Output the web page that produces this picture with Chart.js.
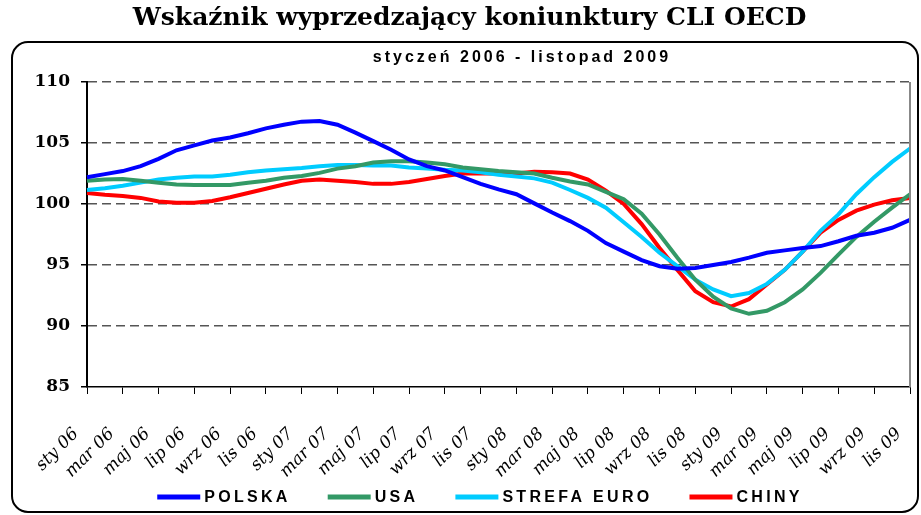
<!DOCTYPE html>
<html>
<head>
<meta charset="utf-8">
<script src="https://cdn.jsdelivr.net/npm/chart.js@4.4.1/dist/chart.umd.min.js"></script>
<style>
  html, body { margin: 0; padding: 0; background: #fff; }
</style>
</head>
<body>
<canvas id="chart" width="921" height="515"></canvas>
<script>
const TITLE = 'Wskaźnik wyprzedzający koniunktury CLI OECD';
const SUBTITLE = 'styczeń 2006 - listopad 2009';

const months = [
  'sty 06', 'lut 06', 'mar 06', 'kwi 06', 'maj 06', 'cze 06', 'lip 06', 'sie 06', 'wrz 06', 'paź 06', 'lis 06', 'gru 06',
  'sty 07', 'lut 07', 'mar 07', 'kwi 07', 'maj 07', 'cze 07', 'lip 07', 'sie 07', 'wrz 07', 'paź 07', 'lis 07', 'gru 07',
  'sty 08', 'lut 08', 'mar 08', 'kwi 08', 'maj 08', 'cze 08', 'lip 08', 'sie 08', 'wrz 08', 'paź 08', 'lis 08', 'gru 08',
  'sty 09', 'lut 09', 'mar 09', 'kwi 09', 'maj 09', 'cze 09', 'lip 09', 'sie 09', 'wrz 09', 'paź 09', 'lis 09'
];

const polska = [
  102.2, 102.45, 102.7, 103.1, 103.7, 104.4, 104.8, 105.2, 105.45, 105.8, 106.2, 106.5,
  106.75, 106.8, 106.5, 105.85, 105.15, 104.45, 103.65, 103.1, 102.75, 102.2, 101.65, 101.2,
  100.8, 100.05, 99.3, 98.6, 97.8, 96.8, 96.1, 95.4, 94.9, 94.7, 94.75, 95.0,
  95.25, 95.6, 96.0, 96.2, 96.4, 96.55, 96.95, 97.4, 97.65, 98.05, 98.7
];
const usa = [
  101.9, 102.0, 102.05, 101.9, 101.75, 101.6, 101.55, 101.55, 101.55, 101.75, 101.9, 102.15,
  102.3, 102.55, 102.9, 103.1, 103.4, 103.5, 103.5, 103.4, 103.25, 103.0, 102.85, 102.7,
  102.6, 102.5, 102.15, 101.85, 101.6, 101.0, 100.4, 99.2, 97.5, 95.6, 93.8, 92.4,
  91.45, 91.0, 91.25, 91.95, 93.0, 94.35, 95.85, 97.3, 98.55, 99.7, 100.8
];
const strefaEuro = [
  101.15, 101.3, 101.5, 101.75, 102.0, 102.15, 102.25, 102.25, 102.4, 102.6, 102.75, 102.85,
  102.95, 103.1, 103.2, 103.2, 103.15, 103.15, 103.0, 102.9, 102.8, 102.75, 102.6, 102.4,
  102.25, 102.1, 101.75, 101.15, 100.5, 99.7, 98.5, 97.3, 96.0, 94.9, 93.8, 93.0,
  92.45, 92.7, 93.45, 94.6, 96.1, 97.8, 99.15, 100.8, 102.2, 103.45, 104.55
];
const chiny = [
  100.9, 100.75, 100.65, 100.5, 100.2, 100.1, 100.1, 100.25, 100.55, 100.9, 101.25, 101.6,
  101.9, 102.0, 101.9, 101.8, 101.65, 101.65, 101.8, 102.05, 102.3, 102.5, 102.5, 102.5,
  102.5, 102.65, 102.6, 102.5, 102.0, 101.1, 100.0, 98.35, 96.4, 94.6, 92.85, 91.95,
  91.6, 92.2, 93.4, 94.6, 96.1, 97.65, 98.7, 99.45, 99.95, 100.3, 100.5
];

const seriesNames = ['POLSKA', 'USA', 'STREFA EURO', 'CHINY'];
const seriesColors = ['#0000ff', '#339966', '#00ccff', '#ff0000'];
const seriesValues = [polska, usa, strefaEuro, chiny];

const yTicks = [85, 90, 95, 100, 105, 110];

// rounded frame, subtitle and legend around the plot
const framePlugin = {
  id: 'frame',
  beforeDraw(chart) {
    const ctx = chart.ctx;
    ctx.save();
    ctx.strokeStyle = '#000';
    ctx.lineWidth = 2;
    ctx.beginPath();
    ctx.roundRect(12, 42, 906, 470, 16);
    ctx.stroke();
    ctx.restore();
  },
  afterDraw(chart) {
    const { ctx, chartArea } = chart;
    ctx.save();
    ctx.strokeStyle = '#888';
    ctx.lineWidth = 2;
    ctx.beginPath();
    ctx.moveTo(chartArea.right, chartArea.top);
    ctx.lineTo(chartArea.right, chartArea.bottom);
    ctx.stroke();

    ctx.fillStyle = '#000';
    ctx.textBaseline = 'middle';
    ctx.textAlign = 'center';
    ctx.font = 'bold 16px "Liberation Sans", Arial, sans-serif';
    ctx.letterSpacing = '3px';
    ctx.fillText(SUBTITLE, 522, 58);

    // legend
    ctx.font = 'bold 16px "Liberation Sans", Arial, sans-serif';
    ctx.letterSpacing = '3.3px';
    ctx.textAlign = 'left';
    const lineLen = 43, gap = 4, between = 37;
    const items = chart.data.datasets.map(ds => ({
      text: ds.label, color: ds.borderColor, w: ctx.measureText(ds.label).width
    }));
    const total = items.reduce((s, it) => s + lineLen + gap + it.w, 0) + between * (items.length - 1);
    let x = 480 - total / 2;
    const y = 497;
    items.forEach(it => {
      ctx.strokeStyle = it.color;
      ctx.lineWidth = 5;
      ctx.beginPath();
      ctx.moveTo(x, y);
      ctx.lineTo(x + lineLen, y);
      ctx.stroke();
      ctx.fillText(it.text, x + lineLen + gap, y + 1);
      x += lineLen + gap + it.w + between;
    });
    ctx.restore();
  }
};

const ctx = document.getElementById('chart');
new Chart(ctx, {
  type: 'line',
  data: {
    labels: months,
    datasets: seriesNames.map((name, i) => ({
      label: name,
      data: seriesValues[i],
      borderColor: seriesColors[i],
      backgroundColor: seriesColors[i],
      borderWidth: 4,
      pointRadius: 0,
      tension: 0,
      fill: false
    }))
  },
  options: {
    responsive: false,
    animation: false,
    layout: { padding: { left: 18, right: 0, top: 3, bottom: 33 } },
    plugins: {
      legend: { display: false },
      tooltip: { enabled: false },
      title: {
        display: true,
        text: TITLE,
        color: '#000',
        font: { family: '"DejaVu Serif", serif', size: 25, weight: 'bold' },
        padding: { top: 0, bottom: 49 }
      }
    },
    scales: {
      x: {
        offset: false,
        grid: {
          drawOnChartArea: false,
          drawTicks: true,
          tickLength: 7,
          tickColor: '#000',
          tickWidth: 1
        },
        border: { color: '#000', width: 1.5 },
        ticks: {
          autoSkip: false,
          maxRotation: 45,
          minRotation: 45,
          padding: 30,
          labelOffset: -11,
          color: '#000',
          font: { family: '"DejaVu Serif", serif', size: 17, style: 'italic' },
          callback(value, index) {
            return index % 2 === 0 ? this.getLabelForValue(value) : null;
          }
        },
        afterFit(scale) {
          scale.height = 95;
          scale.paddingRight = 11;
        }
      },
      y: {
        min: 85,
        max: 110,
        afterBuildTicks(scale) {
          scale.ticks = yTicks.map(v => ({ value: v }));
        },
        grid: {
          color: c => (c.tick && c.tick.value === 85 ? 'rgba(0,0,0,0)' : '#555'),
          lineWidth: 1.5,
          tickLength: 6,
          tickColor: '#000',
          tickWidth: 1.5,
          tickBorderDash: []
        },
        border: { color: '#000', width: 2, dash: [9, 5] },
        ticks: {
          padding: 11,
          color: '#000',
          font: { family: '"DejaVu Serif", serif', size: 17, weight: 'bold' }
        },
        afterFit(scale) {
          scale.width = 69;
        }
      }
    }
  },
  plugins: [framePlugin]
});
</script>
</body>
</html>
